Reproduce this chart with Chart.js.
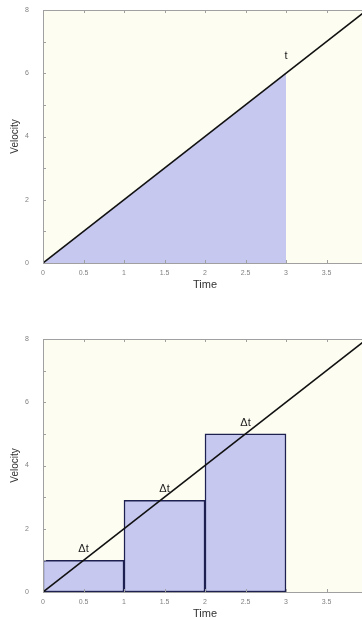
<!DOCTYPE html>
<html>
<head>
  <script src="https://cdn.jsdelivr.net/npm/chart.js@4"></script>
  <style>
    html, body {
      width: 100%;
      height: 100%;
      margin: 0;
      overflow: hidden;
      background: #ffffff;
    }
    .graph {position: absolute; left: 0;}
  </style>
</head>
<body>
  <div class="graph" style="top: 0px;">
    <canvas id="area-canvas" width="367" height="300"></canvas>
  </div>
  <div class="graph" style="top: 300px;">
    <canvas id="steps-canvas" width="367" height="329"></canvas>
  </div>
  <script>
    // v = 2t
    const lineTime = [0, 4];
    const lineVelocity = [0, 8];
    // exact area under the line up to t = 3
    const areaTime = [0, 3];
    const areaVelocity = [0, 6];
    const areaNote = {x: 3, y: 6.55, text: 't'};
    // rectangle approximation, one per time step
    const stepCenters = [0.5, 1.5, 2.5];
    const stepHeights = [1, 2.9, 5];
    const stepNote = 'Δt';

    const fillColor = 'rgb(198, 200, 240)';
    const paperColor = 'rgb(253, 253, 242)';
    const frameColor = 'rgb(160, 160, 160)';
    const fontFamily = '"Liberation Sans", Arial, Helvetica, sans-serif';

    const toPoints = (xs, ys) => xs.map((x, i) => ({x: x, y: ys[i]}));

    // pale plot background, gray frame, short inward tick marks
    const framePlugin = {
      id: 'frame',
      beforeDraw(chart) {
        const a = chart.chartArea;
        const c = chart.ctx;
        c.save();
        c.fillStyle = paperColor;
        c.fillRect(a.left, a.top, a.right - a.left, a.bottom - a.top);
        c.restore();
      },
      afterDatasetsDraw(chart) {
        const a = chart.chartArea;
        const c = chart.ctx;
        const xs = chart.scales.x;
        const ys = chart.scales.y;
        c.save();
        c.strokeStyle = frameColor;
        c.lineWidth = 1;
        c.beginPath();
        c.moveTo(a.left + 0.5, a.top + 0.5);
        c.lineTo(a.right, a.top + 0.5);
        c.moveTo(a.left + 0.5, a.top);
        c.lineTo(a.left + 0.5, a.bottom + 0.5);
        c.lineTo(a.right, a.bottom + 0.5);
        xs.ticks.forEach(t => {
          const px = Math.round(xs.getPixelForValue(t.value)) + 0.5;
          c.moveTo(px, a.bottom);
          c.lineTo(px, a.bottom - 3);
          c.moveTo(px, a.top);
          c.lineTo(px, a.top + 3);
        });
        ys.ticks.forEach(t => {
          const py = Math.round(ys.getPixelForValue(t.value)) + 0.5;
          c.moveTo(a.left, py);
          c.lineTo(a.left + 3, py);
        });
        c.stroke();
        c.restore();
      }
    };

    // text notes placed in data coordinates
    const notesPlugin = {
      id: 'notes',
      afterDraw(chart, args, opts) {
        const c = chart.ctx;
        c.save();
        c.fillStyle = '#222';
        c.font = '11px ' + fontFamily;
        c.textAlign = 'center';
        c.textBaseline = 'middle';
        (opts.items || []).forEach(n => {
          c.fillText(n.text, chart.scales.x.getPixelForValue(n.x), chart.scales.y.getPixelForValue(n.y));
        });
        c.restore();
      }
    };

    function axes() {
      return {
        x: {
          type: 'linear',
          min: 0,
          max: 4,
          offset: false,
          grid: {display: false},
          border: {display: false},
          ticks: {
            stepSize: 0.5,
            autoSkip: false,
            maxRotation: 0,
            padding: -2,
            color: 'rgb(130, 130, 130)',
            font: {size: 7, family: fontFamily},
            callback: v => String(v),
          },
          title: {
            display: true,
            text: 'Time',
            color: '#333',
            font: {size: 11, family: fontFamily},
            padding: {top: 0, bottom: 8},
          },
          afterFit: s => { s.height = 37; s.paddingLeft = 0; s.paddingRight = 0; },
        },
        y: {
          min: 0,
          max: 8,
          grid: {display: false},
          border: {display: false},
          ticks: {
            stepSize: 1,
            padding: 6,
            color: 'rgb(130, 130, 130)',
            font: {size: 7, family: fontFamily},
            callback: v => (v % 2 === 0 ? String(v) : ''),
          },
          title: {
            display: true,
            text: 'Velocity',
            color: '#333',
            font: {size: 10, family: fontFamily},
            padding: {top: 9, bottom: 0},
          },
          afterFit: s => { s.width = 43; s.paddingTop = 0; s.paddingBottom = 0; },
        },
      };
    }

    const lineDataset = {
      type: 'line',
      data: toPoints(lineTime, lineVelocity),
      borderColor: '#111',
      borderWidth: 1.6,
      pointRadius: 0,
      fill: false,
      order: 0,
    };

    new Chart(document.getElementById('area-canvas'), {
      type: 'line',
      data: {
        datasets: [
          lineDataset,
          {
            data: toPoints(areaTime, areaVelocity),
            borderWidth: 0,
            borderColor: 'rgba(0,0,0,0)',
            backgroundColor: fillColor,
            pointRadius: 0,
            fill: 'origin',
            order: 1,
          },
        ],
      },
      options: {
        responsive: false,
        animation: false,
        layout: {padding: {top: 10, right: 0, left: 0, bottom: 0}},
        scales: axes(),
        plugins: {
          legend: {display: false},
          tooltip: {enabled: false},
          notes: {items: [areaNote]},
        },
      },
      plugins: [framePlugin, notesPlugin],
    });

    new Chart(document.getElementById('steps-canvas'), {
      type: 'bar',
      data: {
        datasets: [
          Object.assign({}, lineDataset, {data: toPoints(lineTime, lineVelocity)}),
          {
            type: 'bar',
            data: toPoints(stepCenters, stepHeights),
            backgroundColor: fillColor,
            borderColor: 'rgb(30, 32, 80)',
            borderWidth: 1.5,
            borderSkipped: false,
            barThickness: 'flex',
            categoryPercentage: 1,
            barPercentage: 1,
            order: 1,
          },
        ],
      },
      options: {
        responsive: false,
        animation: false,
        layout: {padding: {top: 39, right: 0, left: 0, bottom: 0}},
        scales: axes(),
        plugins: {
          legend: {display: false},
          tooltip: {enabled: false},
          notes: {
            items: stepCenters.map((x, i) => ({x: x, y: stepHeights[i] + 0.35, text: stepNote})),
          },
        },
      },
      plugins: [framePlugin, notesPlugin],
    });
  </script>
</body>
</html>
